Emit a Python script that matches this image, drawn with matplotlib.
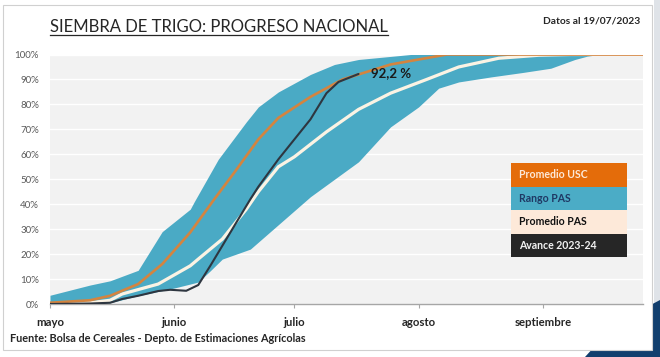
import matplotlib
matplotlib.use("Agg")
import matplotlib.pyplot as plt
import numpy as np
from matplotlib.patches import Rectangle, Polygon
from matplotlib.lines import Line2D
from matplotlib.ticker import FuncFormatter

plt.rcParams['font.family'] = ['Lato', 'DejaVu Sans']

# ---- data (x = days since 1 May) ----
month_ticks = [0, 31, 61, 92, 123]
month_labels = ['mayo', 'junio', 'julio', 'agosto', 'septiembre']

upper_days = [0, 10, 15, 22, 28, 35, 36, 42, 49, 52, 57, 65, 71, 77, 90, 148]
upper_vals = [3.5, 7.6, 9.3, 13.5, 29, 38, 41, 58, 73, 79, 85, 92, 96, 98, 100, 100]

lower_days = [0, 10, 15, 22, 31, 37, 40, 43, 50, 55, 65, 77, 85, 92, 97, 102, 110, 118, 125, 131, 134, 137, 148]
lower_vals = [0, 0, 0.5, 3.3, 6.4, 8.8, 13.3, 18, 22, 29, 43, 57, 71, 79, 86.5, 89, 91, 92.8, 94.5, 98, 99.3, 100, 100]

usc_days = [0, 10, 15, 22, 28, 35, 41, 46, 52, 57, 65, 73, 85, 99, 148]
usc_vals = [0.5, 1.5, 3.3, 8, 16, 28.7, 42, 52.7, 66, 74.6, 83, 90, 96, 100, 100]

pas_days = [0, 10, 15, 18, 27, 35, 37, 43, 49, 52, 57, 61, 69, 77, 85, 94, 102, 112, 122, 130, 148]
pas_vals = [0, 0.5, 1.5, 4, 8, 15.3, 18, 26, 38, 45, 55, 59, 69, 78, 84.5, 90, 95, 98.5, 99.7, 100, 100]

avance_days = [0, 10, 15, 18, 22, 27, 30, 34, 37, 40, 43, 47, 50, 52, 57, 61, 65, 69, 72, 77]
avance_vals = [0, 0.2, 0.5, 2, 3.3, 5.2, 5.7, 5.3, 7.6, 15.3, 23.3, 34, 42, 47, 58, 66, 74, 84.5, 89, 92.2]

last_label = '92,2 %'
legend_items = ['Promedio USC', 'Rango PAS', 'Promedio PAS', 'Avance 2023-24']

# ---- figure ----
W, H = 660, 357
fig = plt.figure(figsize=(W / 100, H / 100), dpi=100)
fig.patch.set_facecolor('white')

def P(x, y):
    return (x / W, 1 - y / H)

# decorative background
fig.add_artist(Rectangle(P(654, 357), 6 / W, 357 / H, transform=fig.transFigure,
                         facecolor='#dfe3e8', edgecolor='none', zorder=0))
fig.add_artist(Polygon([P(660, 300), P(660, 357), P(585, 357), P(605, 335), P(630, 316)],
                       closed=True, transform=fig.transFigure,
                       facecolor='#123f6e', edgecolor='none', zorder=0.5))
fig.add_artist(Rectangle(P(3, 350), 649 / W, 345 / H, transform=fig.transFigure,
                         facecolor='white', edgecolor='#d0d0d0', linewidth=0.8, zorder=1))

ax = fig.add_axes([50 / W, 1 - 304 / H, 593 / W, 249.5 / H])
ax.set_zorder(2)
ax.set_facecolor('#f2f2f2')

grid_x = np.union1d(upper_days, lower_days)
up_i = np.interp(grid_x, upper_days, upper_vals)
lo_i = np.interp(grid_x, lower_days, lower_vals)
ax.fill_between(grid_x, lo_i, up_i, color='#4aaac5', linewidth=0, zorder=2)

ax.plot(pas_days, pas_vals, color='#fbf3e4', lw=2.3, zorder=3, solid_capstyle='round',
        solid_joinstyle='round')
ax.plot(usc_days, usc_vals, color='#d4843f', lw=1.9, zorder=4, solid_capstyle='round',
        solid_joinstyle='round')
ax.plot(avance_days, avance_vals, color='#2e3640', lw=1.5, zorder=5, solid_capstyle='round',
        solid_joinstyle='round')

ax.text(avance_days[-1] + 3, avance_vals[-1] + 0.3, last_label, fontsize=9.5,
        fontweight='bold', color='#1a1a1a', va='center', ha='left', zorder=6)

ax.set_xlim(0, 148)
ax.set_ylim(0, 100)
ax.set_yticks(range(0, 101, 10))
ax.yaxis.set_major_formatter(FuncFormatter(lambda v, p: f'{int(v)}%'))
ax.set_xticks(month_ticks)
ax.set_xticklabels(month_labels)
ax.grid(axis='y', color='white', lw=1.0, zorder=1)
ax.set_axisbelow(True)
for s in ['top', 'right', 'left']:
    ax.spines[s].set_visible(False)
ax.spines['bottom'].set_color('#a6a6a6')
ax.spines['bottom'].set_linewidth(1.0)
ax.tick_params(axis='y', length=0, pad=8, labelsize=7, labelcolor='#595959')
ax.tick_params(axis='x', length=3, width=0.8, color='#a6a6a6', direction='out',
               pad=6, labelsize=8.2, labelcolor='#262626')
for lab in ax.get_xticklabels():
    lab.set_fontweight('bold')

# title with underline
title = fig.text(*P(50, 27), 'SIEMBRA DE TRIGO: PROGRESO NACIONAL', fontsize=12,
                 color='#262626', ha='left', va='center', zorder=3)
fig.canvas.draw()
bb = title.get_window_extent(fig.canvas.get_renderer())
fig.add_artist(Line2D([bb.x0 / W, bb.x1 / W], [1 - 35 / H, 1 - 35 / H],
                      transform=fig.transFigure, color='#262626', lw=0.9, zorder=3))

fig.text(*P(640, 21), 'Datos al 19/07/2023', fontsize=7.4, fontweight='bold',
         color='#262626', ha='right', va='center', zorder=3)
fig.text(*P(10, 338), 'Fuente: Bolsa de Cereales - Depto. de Estimaciones Agrícolas',
         fontsize=7.8, fontweight='bold', color='#262626', ha='left', va='center', zorder=3)

# legend boxes
box_colors = ['#e46c0a', '#4bacc6', '#fde9d9', '#262626']
text_colors = ['#fde9d9', '#1f3864', '#111111', '#f2f2f2']
y0 = 163
bh = 23.5
for i, (lbl, bc, tc) in enumerate(zip(legend_items, box_colors, text_colors)):
    top = y0 + i * bh
    fig.add_artist(Rectangle(P(511, top + bh), 116 / W, bh / H, transform=fig.transFigure,
                             facecolor=bc, edgecolor='none', zorder=10))
    fig.text(*P(519, top + bh / 2), lbl, fontsize=7.6, fontweight='bold', color=tc,
             ha='left', va='center', zorder=11)

fig.savefig('out.png', dpi=100)
